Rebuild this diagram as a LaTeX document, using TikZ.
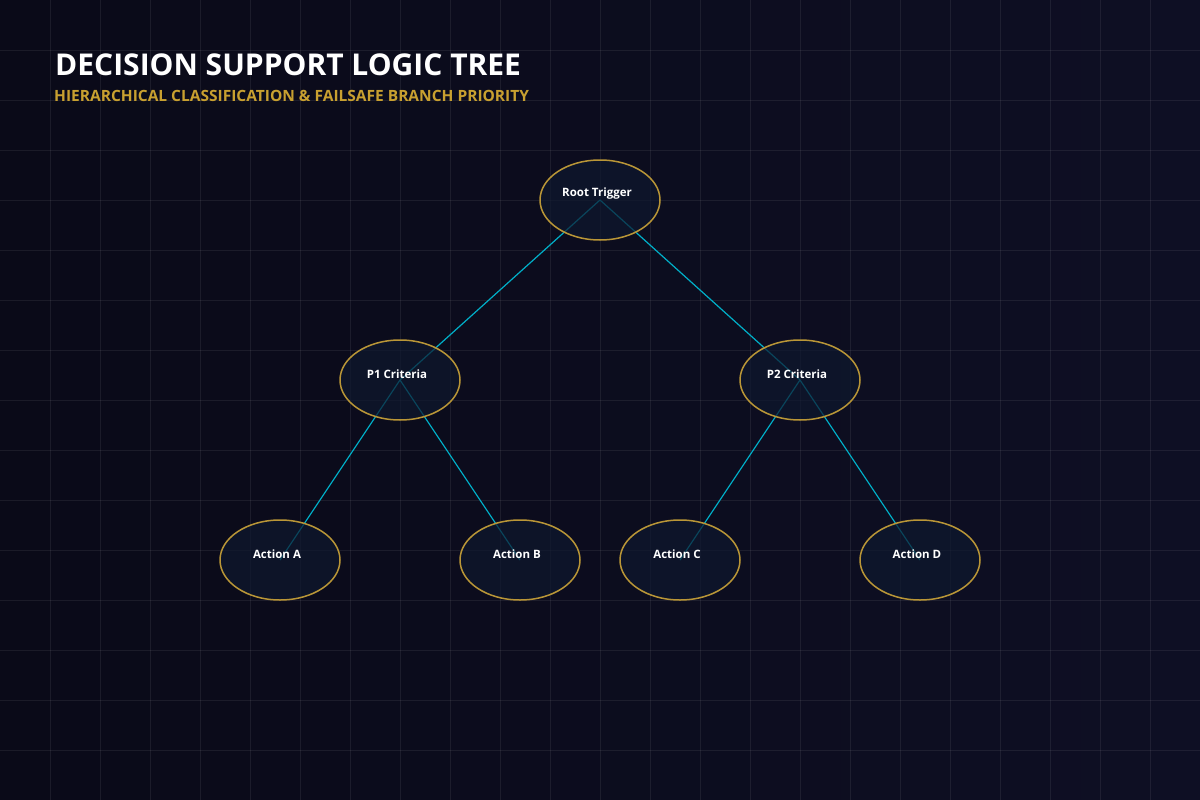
\documentclass[tikz,border=0pt]{standalone}
\usepackage{fontspec}
\setmainfont{Open Sans}
\usetikzlibrary{shapes.geometric}
\begin{document}
\begin{tikzpicture}[x=1pt,y=-1pt,
  nd/.style={ellipse,minimum width=120pt,minimum height=80pt,draw={rgb,255:red,185;green,150;blue,55},line width=1.5pt,fill={rgb,255:red,14;green,24;blue,46},fill opacity=0.7,text opacity=1,inner sep=0pt},
  lb/.style={text=white,font=\bfseries\fontsize{11.5}{13}\selectfont},
  ed/.style={draw={rgb,255:red,0;green,175;blue,200},line width=1.2pt}]
\useasboundingbox (0,0) rectangle (1200,800);
\shade[left color={rgb,255:red,10;green,10;blue,24},right color={rgb,255:red,14;green,15;blue,36}] (0,0) rectangle (1200,800);
\foreach \x in {50,100,...,1150} \draw[white,opacity=0.07,line width=0.6pt] (\x,0) -- (\x,800);
\foreach \y in {50,100,...,750} \draw[white,opacity=0.07,line width=0.6pt] (0,\y) -- (1200,\y);
\coordinate (r) at (600,200);
\coordinate (p1) at (400,380);
\coordinate (p2) at (800,380);
\coordinate (a) at (280,560);
\coordinate (b) at (520,560);
\coordinate (c) at (680,560);
\coordinate (d) at (920,560);
\draw[ed] (r) -- (p1); \draw[ed] (r) -- (p2);
\draw[ed] (p1) -- (a); \draw[ed] (p1) -- (b);
\draw[ed] (p2) -- (c); \draw[ed] (p2) -- (d);
\node[nd] (nr) at (r) {};
\node[nd] (n1) at (p1) {};
\node[nd] (n2) at (p2) {};
\node[nd] (na) at (a) {};
\node[nd] (nb) at (b) {};
\node[nd] (nc) at (c) {};
\node[nd] (ndd) at (d) {};
\node[lb] (tr) at (597,194) {Root Trigger};
\node[lb] (t1) at (397,374) {P1 Criteria};
\node[lb] (t2) at (797,374) {P2 Criteria};
\node[lb] (ta) at (277,554) {Action A};
\node[lb] (tb) at (517,554) {Action B};
\node[lb] (tc) at (677,554) {Action C};
\node[lb] (td) at (917,554) {Action D};
\node[anchor=west,text=white,font=\bfseries\fontsize{30}{34}\selectfont,inner sep=0pt] (title) at (55,65) {DECISION SUPPORT LOGIC TREE};
\node[anchor=west,text={rgb,255:red,200;green,160;blue,48},font=\bfseries\fontsize{15.5}{18}\selectfont,inner sep=0pt] (sub) at (54,96) {HIERARCHICAL CLASSIFICATION \& FAILSAFE BRANCH PRIORITY};
\end{tikzpicture}
\end{document}
